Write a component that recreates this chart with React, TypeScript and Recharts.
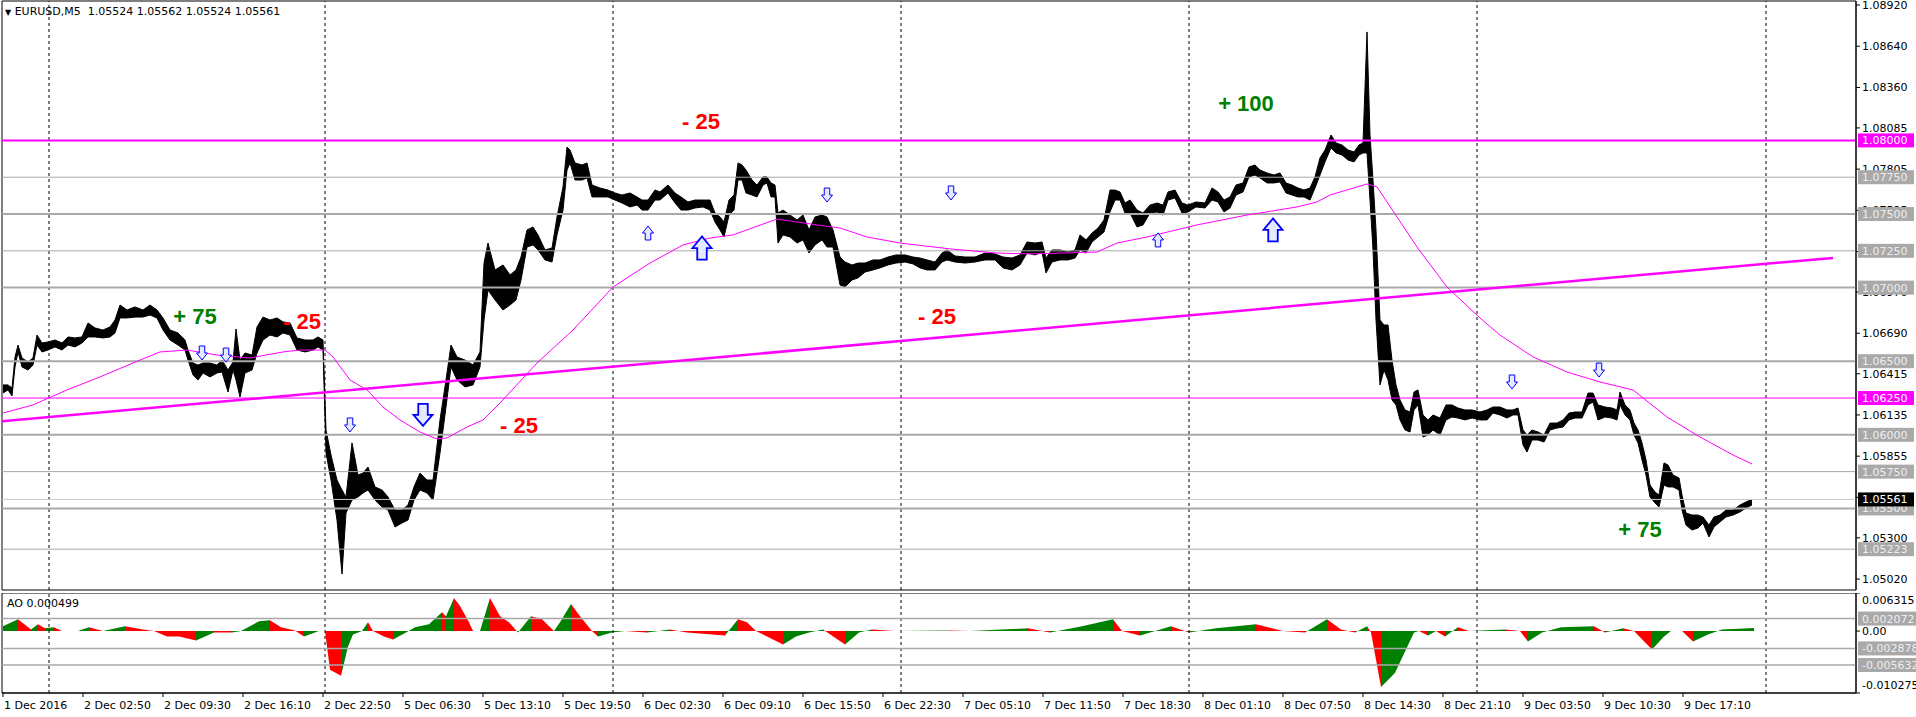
import React from "react";
import {
  Area,
  ComposedChart,
  Line,
  ReferenceArea,
  ReferenceLine,
  Scatter,
  XAxis,
  YAxis,
} from "recharts";

const FONT = "'DejaVu Sans', Verdana, sans-serif";
const BOLD = "'Liberation Sans', Arial, sans-serif";

// bar index (M5 bars, 0 = first visible bar), high, low
const pricesDec1to2 = [
  [0, 1.06339, 1.06284], [5, 1.06339, 1.06305], [9, 1.06318, 1.06264], [12, 1.06529, 1.06461],
  [15, 1.0661, 1.06563], [19, 1.06522, 1.06461], [25, 1.06495, 1.0644], [30, 1.06522, 1.06474],
  [34, 1.06678, 1.0661], [39, 1.06624, 1.06563], [45, 1.06631, 1.06576], [52, 1.06644, 1.06597],
  [59, 1.06624, 1.06576], [65, 1.06665, 1.0661], [72, 1.06658, 1.06597], [79, 1.06665, 1.06624],
  [85, 1.0676, 1.06665], [92, 1.06726, 1.06665], [100, 1.06712, 1.06658], [107, 1.06733, 1.06665],
  [112, 1.0678, 1.06692], [117, 1.06882, 1.06794], [124, 1.06848, 1.06794], [132, 1.06869, 1.068],
  [140, 1.06848, 1.068], [147, 1.06882, 1.06814], [154, 1.06848, 1.06794], [160, 1.06794, 1.06712],
  [167, 1.06712, 1.06644], [175, 1.06692, 1.0661], [182, 1.06644, 1.06576], [185, 1.06576, 1.06508],
  [190, 1.06488, 1.06407], [195, 1.06474, 1.06373], [200, 1.06488, 1.0642], [207, 1.06488, 1.06393],
  [214, 1.06474, 1.0642], [219, 1.06508, 1.06427], [225, 1.0644, 1.06291], [230, 1.06495, 1.0644],
  [233, 1.06719, 1.06373], [237, 1.06508, 1.06257], [242, 1.06556, 1.0642], [249, 1.06542, 1.0644],
  [254, 1.06733, 1.06556], [260, 1.068, 1.06644], [267, 1.0678, 1.06678], [274, 1.06794, 1.06665],
  [280, 1.06767, 1.06692], [287, 1.0676, 1.06678], [294, 1.06658, 1.06576], [302, 1.06644, 1.06563],
  [310, 1.06644, 1.06576], [315, 1.06665, 1.06597], [320, 1.06644, 1.06576],
];

const pricesDec5 = [
  [323, 1.06033, 1.05877], [328, 1.05863, 1.05693], [334, 1.05693, 1.05421], [339, 1.05625, 1.05054],
  [343, 1.05578, 1.05469], [349, 1.05945, 1.05557], [355, 1.05727, 1.05578], [360, 1.0574, 1.05605],
  [365, 1.05781, 1.05625], [372, 1.05646, 1.05557], [379, 1.05625, 1.0551], [385, 1.05578, 1.05489],
  [392, 1.05489, 1.05374], [399, 1.05489, 1.05401], [405, 1.05523, 1.05421], [411, 1.05646, 1.05557],
  [417, 1.0574, 1.05625], [424, 1.05693, 1.05605], [430, 1.05693, 1.05557], [437, 1.06101, 1.05877],
  [443, 1.06373, 1.06189], [448, 1.0661, 1.06461], [454, 1.06529, 1.06373], [462, 1.06508, 1.06325],
  [470, 1.06474, 1.06339], [477, 1.06563, 1.06461], [481, 1.07167, 1.0678], [485, 1.07303, 1.06984],
  [492, 1.0712, 1.06916], [500, 1.07154, 1.06848], [507, 1.07086, 1.06882], [513, 1.0712, 1.06916],
  [518, 1.07208, 1.07052], [524, 1.07392, 1.07276], [530, 1.07412, 1.0729], [535, 1.07358, 1.07256],
  [542, 1.07256, 1.07188], [549, 1.07269, 1.07174], [554, 1.0748, 1.07358], [560, 1.07684, 1.07527],
  [564, 1.07955, 1.07799], [567, 1.07935, 1.07847], [572, 1.07847, 1.07731], [579, 1.07833, 1.07731],
  [584, 1.07847, 1.07745], [589, 1.07697, 1.07616], [597, 1.07677, 1.07616], [605, 1.07663, 1.07616],
];

const pricesDec6 = [
  [612, 1.07643, 1.07595], [619, 1.07629, 1.07575], [627, 1.07643, 1.07548], [634, 1.07616, 1.07561],
  [639, 1.07595, 1.07527], [645, 1.07595, 1.07527], [652, 1.07663, 1.07595], [657, 1.0765, 1.07595],
  [665, 1.07697, 1.07643], [672, 1.07643, 1.07575], [678, 1.07616, 1.07527], [685, 1.07582, 1.07527],
  [692, 1.07595, 1.07541], [700, 1.07595, 1.07548], [707, 1.07595, 1.07527], [712, 1.07507, 1.07446],
  [717, 1.0748, 1.07392], [721, 1.07446, 1.07344], [726, 1.07595, 1.07493], [731, 1.07629, 1.07527],
  [735, 1.07847, 1.07731], [739, 1.07833, 1.07731], [743, 1.07799, 1.07643], [749, 1.07731, 1.07629],
  [754, 1.07697, 1.07616], [760, 1.07752, 1.07697], [764, 1.07752, 1.07711], [768, 1.07711, 1.07616],
  [772, 1.07697, 1.07616], [775, 1.07507, 1.07303], [780, 1.07527, 1.07358], [787, 1.07493, 1.07344],
  [794, 1.0746, 1.07303], [800, 1.07493, 1.07324], [806, 1.07392, 1.07235], [812, 1.0748, 1.0729],
  [819, 1.07493, 1.07324], [824, 1.0748, 1.07276], [830, 1.07392, 1.07276], [837, 1.07208, 1.07018],
  [842, 1.07174, 1.07004], [849, 1.07154, 1.07052], [855, 1.07167, 1.07066], [862, 1.07167, 1.07106],
  [870, 1.07188, 1.0712], [877, 1.07188, 1.07134], [885, 1.07208, 1.07154], [893, 1.07222, 1.07167],
];

const pricesDec7 = [
  [902, 1.07222, 1.07174], [910, 1.07208, 1.07161], [917, 1.07201, 1.07134], [924, 1.07188, 1.0712],
  [932, 1.07174, 1.0712], [939, 1.07235, 1.07174], [944, 1.07256, 1.07188], [952, 1.07215, 1.07174],
  [962, 1.07208, 1.07167], [972, 1.07208, 1.07174], [982, 1.07235, 1.07188], [992, 1.07229, 1.07188],
  [1000, 1.07208, 1.07134], [1009, 1.07201, 1.0712], [1017, 1.07222, 1.07154], [1024, 1.0731, 1.07235],
  [1032, 1.07303, 1.07222], [1039, 1.0731, 1.07242], [1043, 1.07201, 1.071], [1049, 1.07256, 1.07174],
  [1057, 1.07256, 1.07188], [1065, 1.07242, 1.07188], [1072, 1.07256, 1.07201], [1077, 1.07358, 1.07256],
  [1083, 1.07324, 1.07235], [1089, 1.07371, 1.0731], [1095, 1.07405, 1.07344], [1101, 1.0746, 1.07378],
  [1107, 1.07663, 1.07514], [1112, 1.07663, 1.07595], [1117, 1.0765, 1.07595], [1122, 1.07575, 1.07507],
  [1127, 1.07595, 1.07507], [1134, 1.07527, 1.07412], [1140, 1.07507, 1.07426], [1147, 1.07561, 1.07507],
  [1154, 1.07575, 1.07514], [1160, 1.07561, 1.07493], [1165, 1.0765, 1.07595], [1172, 1.07663, 1.07609],
  [1179, 1.07575, 1.07507], [1185, 1.07561, 1.07514],
];

const pricesDec8 = [
  [1193, 1.07582, 1.07548], [1202, 1.07575, 1.07541], [1209, 1.07677, 1.07595], [1215, 1.0765, 1.07582],
  [1221, 1.07595, 1.07514], [1227, 1.07616, 1.07541], [1233, 1.07697, 1.07629], [1240, 1.07711, 1.0765],
  [1246, 1.0782, 1.07752], [1252, 1.07833, 1.07765], [1257, 1.07799, 1.07745], [1264, 1.07779, 1.07711],
  [1271, 1.07765, 1.07711], [1277, 1.07779, 1.07718], [1283, 1.07711, 1.07643], [1289, 1.07697, 1.07629],
  [1295, 1.07677, 1.07616], [1301, 1.07663, 1.07616], [1307, 1.07677, 1.07595], [1312, 1.07752, 1.07677],
  [1317, 1.07881, 1.07765], [1322, 1.07935, 1.07854], [1328, 1.08037, 1.07949], [1333, 1.07983, 1.07915],
  [1339, 1.07969, 1.07901], [1345, 1.07935, 1.07867], [1351, 1.07922, 1.07854], [1356, 1.07969, 1.07901],
  [1360, 1.07983, 1.07915], [1364, 1.08737, 1.07915], [1367, 1.08037, 1.07595], [1370, 1.07731, 1.07256],
  [1373, 1.07392, 1.0678], [1377, 1.0678, 1.06339], [1381, 1.06746, 1.0644], [1385, 1.06746, 1.06373],
  [1389, 1.06508, 1.06237], [1393, 1.06339, 1.06203], [1397, 1.06237, 1.06101], [1402, 1.06169, 1.06033],
  [1407, 1.06155, 1.06019], [1411, 1.06291, 1.06169], [1415, 1.06305, 1.06203], [1420, 1.06135, 1.05985],
  [1425, 1.06101, 1.05999], [1430, 1.06135, 1.06033], [1437, 1.06114, 1.05999], [1443, 1.06203, 1.06101],
  [1449, 1.06203, 1.06121], [1455, 1.06182, 1.06114], [1462, 1.06169, 1.06101], [1469, 1.06169, 1.06114],
];

const pricesDec9 = [
  [1477, 1.06155, 1.06101], [1484, 1.06169, 1.06101], [1490, 1.06189, 1.06148], [1497, 1.06189, 1.06135],
  [1504, 1.06169, 1.06114], [1510, 1.06169, 1.06135], [1515, 1.06182, 1.06135], [1520, 1.06033, 1.05931],
  [1524, 1.05999, 1.05883], [1529, 1.06033, 1.05965], [1535, 1.06019, 1.05965], [1541, 1.05999, 1.05951],
  [1547, 1.0608, 1.06033], [1554, 1.0608, 1.06046], [1560, 1.06101, 1.06053], [1566, 1.06148, 1.06101],
  [1572, 1.06155, 1.06114], [1579, 1.06155, 1.06114], [1585, 1.06284, 1.06203], [1590, 1.06284, 1.06223],
  [1595, 1.06203, 1.06101], [1602, 1.06189, 1.06121], [1609, 1.06182, 1.06114], [1614, 1.06169, 1.06101],
  [1617, 1.06291, 1.06203], [1622, 1.06203, 1.06135], [1627, 1.06169, 1.06101], [1631, 1.0608, 1.05999],
  [1635, 1.06033, 1.05945], [1639, 1.05945, 1.05829], [1643, 1.05829, 1.05727], [1647, 1.05659, 1.05578],
  [1652, 1.05611, 1.05537], [1656, 1.05591, 1.0551], [1661, 1.05809, 1.05659], [1665, 1.05795, 1.05646],
  [1670, 1.05727, 1.05646], [1676, 1.05707, 1.05625], [1679, 1.05591, 1.05489], [1683, 1.05469, 1.05387],
  [1689, 1.05455, 1.05353], [1695, 1.05455, 1.05367], [1700, 1.05442, 1.05401], [1706, 1.05387, 1.05306],
  [1711, 1.05442, 1.05374], [1717, 1.05455, 1.05408], [1723, 1.05489, 1.05442], [1730, 1.05489, 1.05455],
  [1737, 1.05523, 1.05476], [1743, 1.05544, 1.05503], [1749, 1.05562, 1.05524],
];

// moving average (thin magenta)
const movingAverage = [
  [0, 1.06148], [30, 1.06203], [64, 1.06305], [97, 1.06393], [130, 1.06488], [157, 1.06563],
  [184, 1.06576], [214, 1.06542], [247, 1.06522], [280, 1.06563], [297, 1.06576], [322, 1.06576],
  [330, 1.06529], [347, 1.06373], [364, 1.06305], [380, 1.06189], [397, 1.06101], [417, 1.06019],
  [434, 1.05972], [444, 1.05979], [464, 1.06053], [480, 1.06101], [497, 1.06216], [534, 1.06488],
  [570, 1.06712], [610, 1.07004], [647, 1.07167], [680, 1.0729], [707, 1.07337], [730, 1.07358],
  [774, 1.07466], [814, 1.07426], [837, 1.07405], [864, 1.07344], [897, 1.07303], [947, 1.07263],
  [994, 1.07235], [1027, 1.07229], [1060, 1.07235], [1094, 1.07242], [1114, 1.07303], [1144, 1.07344],
  [1194, 1.07426], [1244, 1.07493], [1294, 1.07548], [1314, 1.07582], [1327, 1.07629], [1364, 1.07704],
  [1374, 1.07684], [1394, 1.0748], [1414, 1.07276], [1444, 1.07004], [1477, 1.06794], [1497, 1.06678],
  [1530, 1.06529], [1564, 1.06427], [1597, 1.06359], [1630, 1.06305], [1664, 1.06121], [1697, 1.05985],
  [1730, 1.05863], [1749, 1.05802],
];

// Awesome Oscillator
const aoFirstHalf = [
  [0, 0.00079], [15, 0.00196], [28, 0.00028], [35, 0.00112], [42, 0.00045], [51, 0.00062], [59, 0],
  [75, 0], [86, 0.00062], [100, 0], [122, 0.00079], [140, 0.00028], [151, 0], [164, -0.00089],
  [176, -0.00089], [193, -0.00156], [211, -0.00022], [229, -0.00022], [238, 0], [256, 0.00163],
  [267, 0.00179], [278, 0.00062], [292, 0.0001], [301, -0.00089], [316, 0], [322, 0], [327, -0.00642],
  [338, -0.00742], [345, -0.00256], [350, -0.00055], [359, 0], [365, 0.00146], [370, 0], [381, -0.00089],
  [390, -0.00139], [403, -0.00022], [412, 0.00062], [426, 0.00112], [439, 0.00313], [443, 0.00246],
  [451, 0.00548], [457, 0.00414], [466, 0.00146], [470, 0], [477, 0], [487, 0.00548], [497, 0.00246],
  [506, 0.00146], [515, -0.00022], [528, 0.00246], [539, 0.00196], [551, 0], [557, 0.00146],
  [568, 0.00448], [577, 0.00246], [589, 0], [595, -0.00089], [609, -0.00022], [622, 0], [644, -0.00022],
  [667, 0.00028], [684, -0.00022], [722, -0.00072], [735, 0.00196], [744, 0.00146], [753, 0],
  [780, -0.00223], [793, -0.00089], [806, -0.00022], [820, 0.00028], [842, -0.00223], [856, -0.00022],
  [869, 0.00028], [891, 0],
];

const aoSecondHalf = [
  [945, 0.0001], [967, 0], [1025, 0.00045], [1047, -0.00022], [1079, 0.00079], [1110, 0.00196],
  [1119, 0], [1137, -0.00072], [1168, 0.00079], [1186, -0.00022], [1213, 0.00045], [1253, 0.00112],
  [1280, 0], [1302, -0.00022], [1324, 0.00196], [1338, 0.00028], [1352, -0.00022], [1364, 0.00079],
  [1368, -0.00022], [1378, -0.00927], [1388, -0.0076], [1392, -0.00692], [1411, -0.00022], [1416, 0],
  [1425, -0.00072], [1433, 0], [1442, -0.00089], [1455, 0.00062], [1466, 0], [1502, 0.00028], [1517, 0],
  [1525, -0.00173], [1539, -0.00022], [1558, 0.00062], [1591, 0.00079], [1602, -0.00022], [1620, 0.00045],
  [1631, 0], [1649, -0.00307], [1661, -0.00089], [1668, 0], [1679, 0], [1690, -0.00173], [1705, -0.00055],
  [1719, 0.00028], [1751, 0.000499],
];

const smallDownArrows = [[199, 1.06556], [223, 1.06542], [347, 1.06067], [824, 1.07629], [948, 1.07643], [1509, 1.06359], [1596, 1.0644]];
const bigDownArrows = [[420, 1.06135]];
const smallUpArrows = [[645, 1.07371], [1155, 1.07324]];
const bigUpArrows = [[699, 1.07269], [1270, 1.07392]];

const notes = [
  [192, 1.06807, "+ 75"], [299, 1.06773, "- 25"], [516, 1.06067, "- 25"], [698, 1.08132, "- 25"],
  [934, 1.06807, "- 25"], [1243, 1.08254, "+ 100"], [1637, 1.05362, "+ 75"],
];

const trendLine = [[-1, 1.06093], [1830, 1.07202]];
const dayBreakBars = [46, 322, 610, 898, 1186, 1474, 1763];
const timeTickBars = [0, 80, 160, 240, 320, 400, 480, 560, 640, 720, 800, 880, 960, 1040, 1120, 1200, 1280, 1360, 1440, 1520, 1600, 1680];
const timeLabels = [
  "1 Dec 2016", "2 Dec 02:50", "2 Dec 09:30", "2 Dec 16:10", "2 Dec 22:50", "5 Dec 06:30",
  "5 Dec 13:10", "5 Dec 19:50", "6 Dec 02:30", "6 Dec 09:10", "6 Dec 15:50", "6 Dec 22:30",
  "7 Dec 05:10", "7 Dec 11:50", "7 Dec 18:30", "8 Dec 01:10", "8 Dec 07:50", "8 Dec 14:30",
  "8 Dec 21:10", "9 Dec 03:50", "9 Dec 10:30", "9 Dec 17:10",
];
const priceTicks = [1.0892, 1.0864, 1.0836, 1.08085, 1.07805, 1.07525, 1.07245, 1.0697, 1.0669, 1.06415, 1.06135, 1.05855, 1.05575, 1.053, 1.0502];
const grayLevels = [1.0775, 1.075, 1.0725, 1.07, 1.065, 1.06, 1.0575, 1.055, 1.05223];
const heavyLevels = [1.075, 1.07, 1.065, 1.06, 1.055];
const magentaLevels = [1.08, 1.0625];
const bidPrice = 1.05561;
const aoLevels = [0.002072, -0.002878, -0.005632];

const X_DOMAIN = [-1, 1853];
const PRICE_DOMAIN = [1.049458, 1.089472];
const AO_DOMAIN = [-0.010275, 0.006315];
const GREEN = "#008000";
const RED = "#ff0000";
const MAGENTA = "#ff00ff";
const GRAY = "#a9a9a9";

const priceRows = [...pricesDec1to2, ...pricesDec5, ...pricesDec6, ...pricesDec7, ...pricesDec8, ...pricesDec9].map(
  ([bar, hi, lo]) => ({ bar, range: [lo, hi] })
);
const maRows = movingAverage.map(([bar, ma]) => ({ bar, ma }));
const aoPts = [...aoFirstHalf, ...aoSecondHalf];
const aoRows = aoPts.map(([bar, ao]) => ({ bar, ao }));
const toRows = (arr: number[][]) => arr.map(([bar, price]) => ({ bar, price }));
const noteRows = notes.map(([bar, price, text]) => ({ bar, price, text }));

const aoStops = (() => {
  const first = aoPts[0][0];
  const span = aoPts[aoPts.length - 1][0] - first;
  const out: React.ReactNode[] = [];
  for (let j = 0; j < aoPts.length - 1; j++) {
    const color = aoPts[j + 1][1] > aoPts[j][1] ? GREEN : RED;
    out.push(<stop key={`a${j}`} offset={(aoPts[j][0] - first) / span} stopColor={color} />);
    out.push(<stop key={`b${j}`} offset={(aoPts[j + 1][0] - first) / span} stopColor={color} />);
  }
  return out;
})();

const PriceTick = ({ x, y, payload }: any) => (
  <text x={x} y={y + 4} fontSize={11} fontFamily={FONT} fill="#000">
    {Number(payload.value).toFixed(5)}
  </text>
);

const AoTick = ({ x, y, payload }: any) => {
  const v = Number(payload.value);
  const text = v === 0 ? "0.00" : v.toFixed(6);
  const dy = v >= AO_DOMAIN[1] ? 11 : v <= AO_DOMAIN[0] ? -4 : 4;
  return (
    <text x={x} y={y + dy} fontSize={11} fontFamily={FONT} fill="#000">
      {text}
    </text>
  );
};

const TimeTick = ({ x, y, payload }: any) => {
  const i = timeTickBars.indexOf(payload.value);
  return (
    <text x={x + 1} y={y + 10} fontSize={11} fontFamily={FONT} fill="#000">
      {timeLabels[i]}
    </text>
  );
};

const makeTag = (text: string, bg: string, fg: string, w = 56) => (props: any) => {
  const vb = props.viewBox || {};
  const x = (vb.x || 0) + (vb.width || 0) + 2;
  const y = vb.y || 0;
  return (
    <g>
      <rect x={x} y={y - 7} width={w} height={14} fill={bg} />
      <text x={x + 4} y={y + 4} fontSize={11} fontFamily={FONT} fill={fg}>
        {text}
      </text>
    </g>
  );
};

const arrowShape = (dir: "up" | "down", w: number, h: number) => (props: any) => {
  const { cx, cy } = props;
  const s = dir === "down" ? 1 : -1;
  const pts = [
    [-w / 4, -h / 2], [w / 4, -h / 2], [w / 4, 0], [w / 2, 0], [0, h / 2], [-w / 2, 0], [-w / 4, 0],
  ]
    .map(([dx, dy]) => `${cx + dx},${cy + s * dy}`)
    .join(" ");
  return <polygon points={pts} fill="#e4eaff" stroke="#0000ff" strokeWidth={w > 14 ? 1.8 : 1} />;
};

const NoteShape = (props: any) => {
  const { cx, cy, payload } = props;
  const color = String(payload.text).startsWith("+") ? GREEN : RED;
  return (
    <text x={cx} y={cy + 8} textAnchor="middle" fontSize={22} fontWeight="bold" fontFamily={BOLD} fill={color}>
      {payload.text}
    </text>
  );
};

// price tags drawn in a transparent chart on top, so they cover the scale text like MT4 does
function PriceTags() {
  return (
    <ComposedChart width={1916} height={591} margin={{ top: 1, right: 60, bottom: 1, left: 2 }}>
      <XAxis type="number" dataKey="bar" domain={X_DOMAIN} hide allowDataOverflow />
      <YAxis type="number" domain={PRICE_DOMAIN} hide allowDataOverflow />
      {grayLevels.map((p) => (
        <ReferenceLine key={`t${p}`} y={p} stroke="none" label={makeTag(p.toFixed(5), GRAY, "#eeeeee")} />
      ))}
      {magentaLevels.map((p) => (
        <ReferenceLine key={`tm${p}`} y={p} stroke="none" label={makeTag(p.toFixed(5), MAGENTA, "#fff")} />
      ))}
      <ReferenceLine y={bidPrice} stroke="none" label={makeTag(bidPrice.toFixed(5), "#000", "#fff")} />
      <Line data={maRows} dataKey="ma" stroke="none" dot={false} isAnimationActive={false} />
    </ComposedChart>
  );
}

export default function App() {
  return (
    <div style={{ position: "absolute", left: 0, top: 0, width: 1916, height: 717, background: "#fff", overflow: "hidden" }}>
      <div style={{ position: "absolute", left: 0, top: 0 }}>
        <ComposedChart width={1916} height={591} margin={{ top: 1, right: 0, bottom: 1, left: 2 }}>
          <XAxis type="number" dataKey="bar" domain={X_DOMAIN} hide allowDataOverflow />
          <YAxis
            type="number"
            orientation="right"
            width={60}
            domain={PRICE_DOMAIN}
            ticks={priceTicks}
            interval={0}
            allowDataOverflow
            tickSize={4}
            tickLine={{ stroke: "#000" }}
            axisLine={{ stroke: "#000" }}
            tick={PriceTick}
          />
          <ReferenceArea
            x1={X_DOMAIN[0]}
            x2={X_DOMAIN[1]}
            y1={PRICE_DOMAIN[0]}
            y2={PRICE_DOMAIN[1]}
            fill="none"
            stroke="#000"
            ifOverflow="visible"
          />
          {dayBreakBars.map((b) => (
            <ReferenceLine key={`d${b}`} x={b} stroke="#000" strokeDasharray="3 3" />
          ))}
          {grayLevels.map((p) => (
            <ReferenceLine key={`g${p}`} y={p} stroke={GRAY} strokeWidth={heavyLevels.includes(p) ? 2 : 1} />
          ))}
          <ReferenceLine y={bidPrice} stroke="#c8c8c8" />
          {magentaLevels.map((p, i) => (
            <ReferenceLine key={`m${p}`} y={p} stroke={MAGENTA} strokeWidth={i === 0 ? 2 : 1} />
          ))}
          <ReferenceLine
            segment={[
              { x: trendLine[0][0], y: trendLine[0][1] },
              { x: trendLine[1][0], y: trendLine[1][1] },
            ]}
            stroke={MAGENTA}
            strokeWidth={2.5}
            ifOverflow="visible"
          />
          <Line
            data={maRows}
            dataKey="ma"
            type="linear"
            stroke={MAGENTA}
            strokeWidth={1}
            dot={false}
            isAnimationActive={false}
          />
          <Area
            data={priceRows}
            dataKey="range"
            type="linear"
            stroke="#000"
            strokeWidth={1}
            fill="#000"
            fillOpacity={1}
            dot={false}
            isAnimationActive={false}
          />
          <Scatter data={toRows(smallDownArrows)} dataKey="price" shape={arrowShape("down", 11, 14)} isAnimationActive={false} />
          <Scatter data={toRows(bigDownArrows)} dataKey="price" shape={arrowShape("down", 19, 22)} isAnimationActive={false} />
          <Scatter data={toRows(smallUpArrows)} dataKey="price" shape={arrowShape("up", 11, 14)} isAnimationActive={false} />
          <Scatter data={toRows(bigUpArrows)} dataKey="price" shape={arrowShape("up", 19, 23)} isAnimationActive={false} />
          <Scatter data={noteRows} dataKey="price" shape={NoteShape} isAnimationActive={false} />
        </ComposedChart>
      </div>

      <div style={{ position: "absolute", left: 0, top: 0 }}>
        <PriceTags />
      </div>

      <div style={{ position: "absolute", left: 0, top: 593 }}>
        <ComposedChart width={1916} height={124} margin={{ top: 0, right: 0, bottom: 0, left: 2 }}>
          <defs>
            <linearGradient id="aoFill" x1="0" y1="0" x2="1" y2="0">
              {aoStops}
            </linearGradient>
          </defs>
          <XAxis
            type="number"
            dataKey="bar"
            domain={X_DOMAIN}
            allowDataOverflow
            ticks={timeTickBars}
            interval={0}
            height={24}
            tickSize={4}
            tickLine={{ stroke: "#000" }}
            axisLine={{ stroke: "#000" }}
            tick={TimeTick}
          />
          <YAxis
            type="number"
            orientation="right"
            width={60}
            domain={AO_DOMAIN}
            ticks={[AO_DOMAIN[1], 0, AO_DOMAIN[0]]}
            interval={0}
            allowDataOverflow
            tickSize={4}
            tickLine={{ stroke: "#000" }}
            axisLine={{ stroke: "#000" }}
            tick={AoTick}
          />
          <ReferenceArea
            x1={X_DOMAIN[0]}
            x2={X_DOMAIN[1]}
            y1={AO_DOMAIN[0]}
            y2={AO_DOMAIN[1]}
            fill="none"
            stroke="#000"
            ifOverflow="visible"
          />
          {dayBreakBars.map((b) => (
            <ReferenceLine key={`ad${b}`} x={b} stroke="#000" strokeDasharray="3 3" />
          ))}
          {aoLevels.map((v) => (
            <ReferenceLine key={`al${v}`} y={v} stroke={GRAY} strokeWidth={1.5} label={makeTag(v.toFixed(6), GRAY, "#eeeeee", 58)} />
          ))}
          <Area
            data={aoRows}
            dataKey="ao"
            type="linear"
            baseValue={0}
            stroke="none"
            fill="url(#aoFill)"
            fillOpacity={1}
            isAnimationActive={false}
          />
        </ComposedChart>
      </div>

      <div style={{ position: "absolute", left: 5, top: 5, fontFamily: FONT, fontSize: 11, color: "#000", whiteSpace: "pre" }}>
        <span style={{ fontSize: 8 }}>▼</span> EURUSD,M5  1.05524 1.05562 1.05524 1.05561
      </div>
      <div style={{ position: "absolute", left: 7, top: 597, fontFamily: FONT, fontSize: 11, color: "#000", whiteSpace: "pre" }}>
        AO 0.000499
      </div>
    </div>
  );
}
